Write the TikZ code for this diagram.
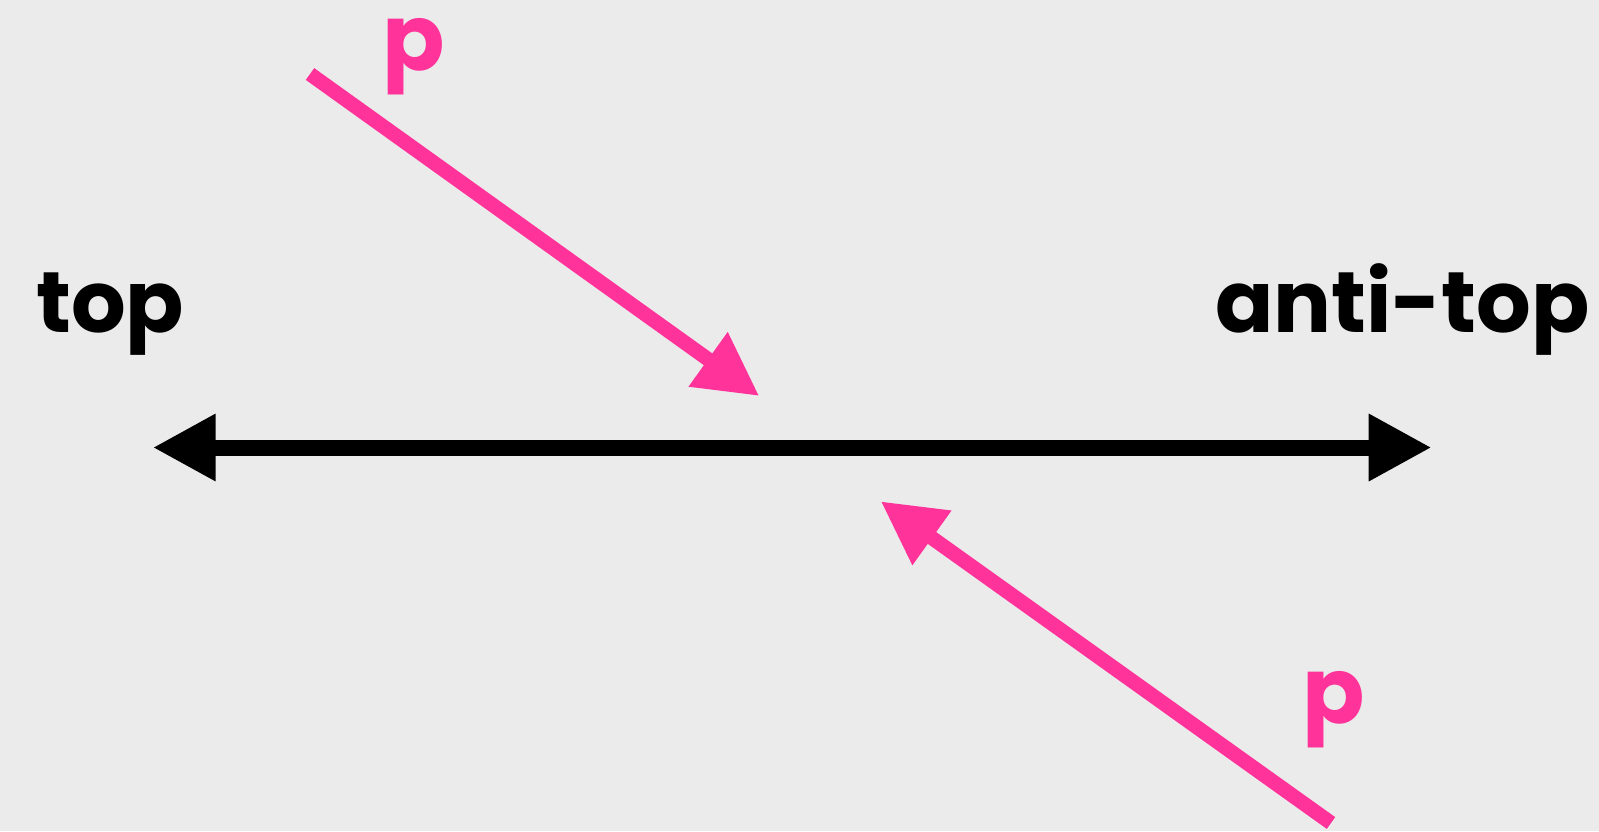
\documentclass[tikz,border=0pt]{standalone}
\usepackage{fontspec}
\setmainfont{Poppins}
\usetikzlibrary{arrows.meta}
\definecolor{bgc}{HTML}{EBEBEB}
\definecolor{pinkc}{HTML}{FF3399}
\begin{document}
\begin{tikzpicture}[x=1pt,y=-1pt,
  blackarrow/.style={line width=16pt, -{Triangle[length=63pt,width=63pt]}},
  pinkarrow/.style={pinkc, line width=14.5pt, -{Triangle[length=63pt,width=63pt]}},
  lbl/.style={font=\bfseries\fontsize{86}{86}\selectfont, anchor=base, inner sep=0pt},
  plbl/.style={lbl, text=pinkc, font=\bfseries\fontsize{92}{92}\selectfont}]
\fill[bgc] (0,0) rectangle (1599,831);
\useasboundingbox (0,0) rectangle (1599,831);
% black axis
\coordinate (c) at (792,447.5);
\coordinate (lt) at (152.7,447.5);
\coordinate (rt) at (1431.7,447.5);
\draw[blackarrow] (c) -- (lt);
\draw[blackarrow] (c) -- (rt);
% pink arrows
\coordinate (p1s) at (310,74);
\coordinate (p1e) at (759.3,396);
\coordinate (p2s) at (1331,823);
\coordinate (p2e) at (880.7,501.3);
\draw[pinkarrow] (p1s) -- (p1e);
\draw[pinkarrow] (p2s) -- (p2e);
% labels
\node[lbl, anchor=base west] (top) at (36,332) {top};
\node[lbl, anchor=base east] (antitop) at (1590,332) {anti-top};
\node[plbl] (pA) at (414,70) {p};
\node[plbl] (pB) at (1334,723) {p};
\end{tikzpicture}
\end{document}
